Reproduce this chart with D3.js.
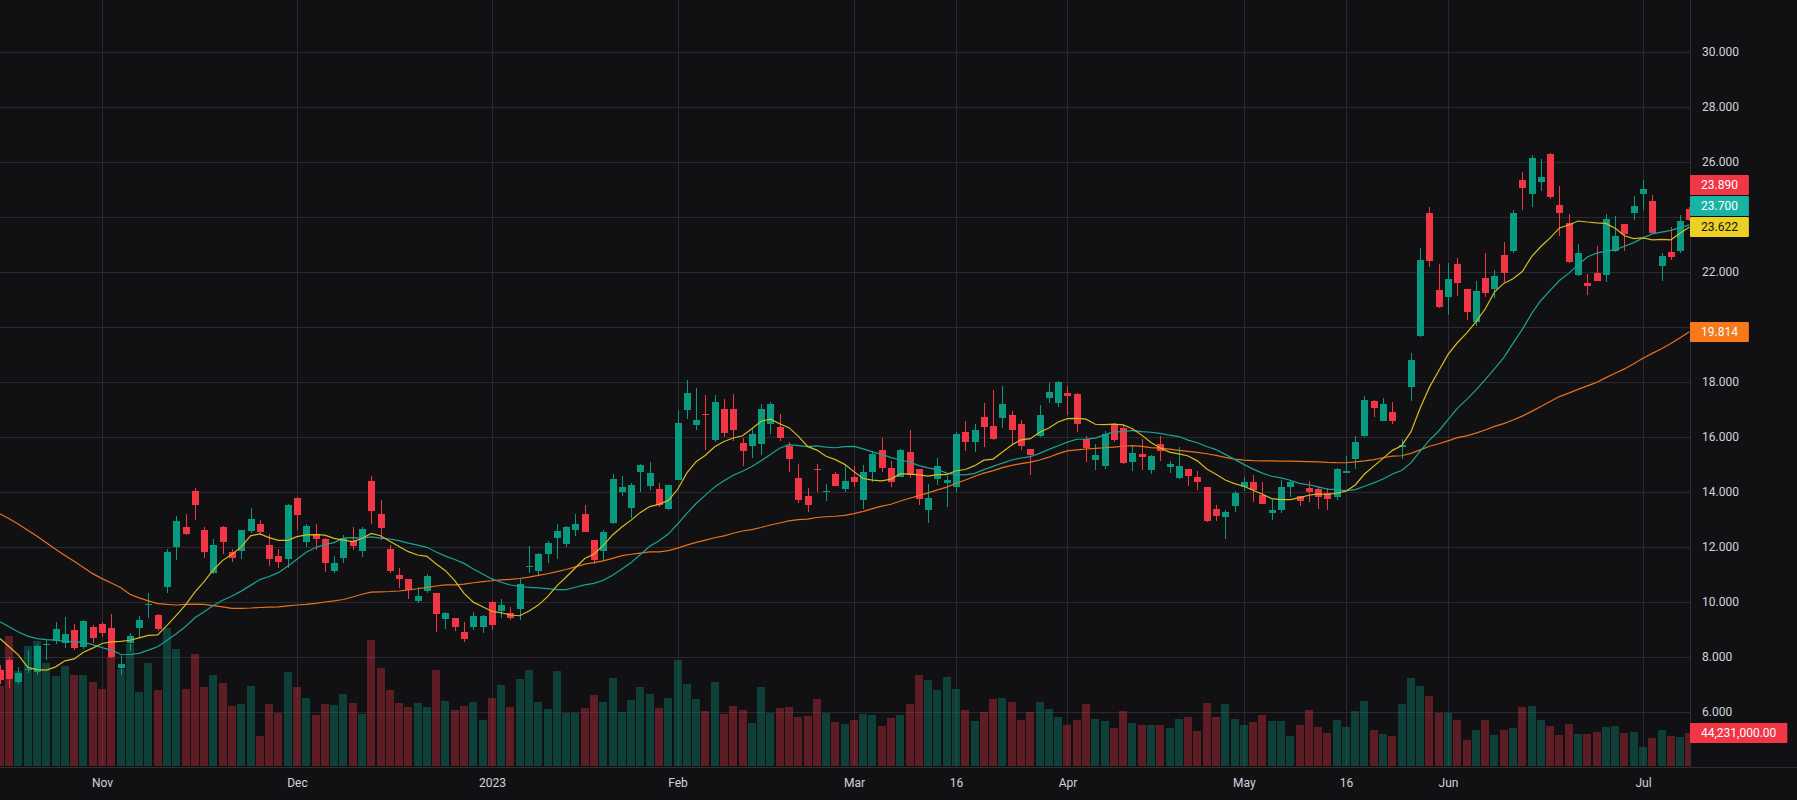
<!DOCTYPE html>
<html>
<head>
<meta charset="utf-8">
<script src="https://cdnjs.cloudflare.com/ajax/libs/d3/7.8.5/d3.min.js"></script>
<style>
    html, body { margin: 0; padding: 0; background: #111114; }
    #chart { width: 1797px; height: 800px; }
    text { font-family: Roboto, "Noto Sans", sans-serif; }
</style>
</head>
<body>
<div id="chart"></div>
<script>
// trading days shown (Oct 17 2022 .. Jul 11 2023)
const dates = [
    '2022-10-17','2022-10-18','2022-10-19','2022-10-20','2022-10-21','2022-10-24','2022-10-25','2022-10-26','2022-10-27','2022-10-28','2022-10-31',
    '2022-11-01','2022-11-02','2022-11-03','2022-11-04','2022-11-07','2022-11-08','2022-11-09','2022-11-10','2022-11-11','2022-11-14','2022-11-15',
    '2022-11-16','2022-11-17','2022-11-18','2022-11-21','2022-11-22','2022-11-23','2022-11-25','2022-11-28','2022-11-29','2022-11-30',
    '2022-12-01','2022-12-02','2022-12-05','2022-12-06','2022-12-07','2022-12-08','2022-12-09','2022-12-12','2022-12-13','2022-12-14','2022-12-15',
    '2022-12-16','2022-12-19','2022-12-20','2022-12-21','2022-12-22','2022-12-23','2022-12-27','2022-12-28','2022-12-29','2022-12-30',
    '2023-01-03','2023-01-04','2023-01-05','2023-01-06','2023-01-09','2023-01-10','2023-01-11','2023-01-12','2023-01-13','2023-01-17',
    '2023-01-18','2023-01-19','2023-01-20','2023-01-23','2023-01-24','2023-01-25','2023-01-26','2023-01-27','2023-01-30','2023-01-31',
    '2023-02-01','2023-02-02','2023-02-03','2023-02-06','2023-02-07','2023-02-08','2023-02-09','2023-02-10','2023-02-13','2023-02-14',
    '2023-02-15','2023-02-16','2023-02-17','2023-02-21','2023-02-22','2023-02-23','2023-02-24','2023-02-27','2023-02-28',
    '2023-03-01','2023-03-02','2023-03-03','2023-03-06','2023-03-07','2023-03-08','2023-03-09','2023-03-10','2023-03-13','2023-03-14',
    '2023-03-15','2023-03-16','2023-03-17','2023-03-20','2023-03-21','2023-03-22','2023-03-23','2023-03-24','2023-03-27','2023-03-28',
    '2023-03-29','2023-03-30','2023-03-31',
    '2023-04-03','2023-04-04','2023-04-05','2023-04-06','2023-04-10','2023-04-11','2023-04-12','2023-04-13','2023-04-14','2023-04-17',
    '2023-04-18','2023-04-19','2023-04-20','2023-04-21','2023-04-24','2023-04-25','2023-04-26','2023-04-27','2023-04-28',
    '2023-05-01','2023-05-02','2023-05-03','2023-05-04','2023-05-05','2023-05-08','2023-05-09','2023-05-10','2023-05-11','2023-05-12',
    '2023-05-15','2023-05-16','2023-05-17','2023-05-18','2023-05-19','2023-05-22','2023-05-23','2023-05-24','2023-05-25','2023-05-26',
    '2023-05-30','2023-05-31',
    '2023-06-01','2023-06-02','2023-06-05','2023-06-06','2023-06-07','2023-06-08','2023-06-09','2023-06-12','2023-06-13','2023-06-14',
    '2023-06-15','2023-06-16','2023-06-20','2023-06-21','2023-06-22','2023-06-23','2023-06-26','2023-06-27','2023-06-28','2023-06-29',
    '2023-06-30',
    '2023-07-03','2023-07-05','2023-07-06','2023-07-07','2023-07-10','2023-07-11'
];

const open = [
    7.5, 7.87, 7.08, 7.52, 7.45, 8.44, 8.56, 8.5, 8.96, 8.36, 9.08,
    9.18, 9.06, 7.6, 8.5, 9.05, 9.88, 9.51, 10.54, 11.99, 12.7,
    14.02, 12.62, 11.05, 12.7, 11.8, 11.85, 12.56, 12.82, 12.08, 11.68,
    11.55, 13.76, 12.18, 12.48, 12.27, 11.12, 11.59, 12.21, 11.85, 14.38,
    13.2, 11.93, 10.96, 10.84, 10.03, 10.38, 10.33, 9.38, 9.39, 8.91,
    9.08, 9.08, 9.98, 9.65, 9.6, 9.74, 11.26, 11.12, 11.73, 12.32,
    12.09, 12.62, 13.18, 12.24, 11.85, 12.88, 13.99, 13.41, 14.72, 14.21,
    14.09, 13.36, 14.43, 16.96, 16.42, 16.82, 15.87, 17.0, 17.0, 15.76,
    15.65, 15.74, 16.45, 16.36, 15.67, 14.49, 13.84, 14.83, 14.0, 14.66,
    14.09, 14.52, 13.7, 14.72, 15.51, 14.88, 14.54, 15.44, 14.82, 13.34,
    14.47, 14.3, 14.18, 16.16, 15.81, 16.7, 16.38, 16.69, 16.78, 16.45,
    15.57, 16.02, 17.41, 17.23, 17.58, 17.55, 15.93, 15.16, 14.93, 16.42,
    16.33, 15.08, 15.36, 14.78, 15.73, 14.9, 14.5, 14.81, 14.53, 14.16,
    13.36, 13.09, 13.48, 14.18, 14.37, 13.87, 13.23, 13.33, 14.18, 13.85,
    14.13, 14.09, 13.94, 13.81, 14.69, 15.18, 16.02, 17.29, 16.58, 16.89,
    15.61, 17.81, 19.65, 24.13, 21.33, 21.08, 22.27, 21.36, 20.17, 21.76,
    21.36, 22.6, 22.76, 25.33, 24.84, 25.27, 26.27, 24.42, 23.78, 21.87,
    21.58, 21.95, 21.87, 22.76, 23.73, 24.13, 24.82, 24.56, 22.2, 22.71,
    22.75, 24.27
];
const high = [
    7.7, 7.99, 7.61, 8.24, 8.48, 8.6, 9.25, 9.45, 9.2, 9.33, 9.15,
    9.27, 9.55, 8.06, 8.87, 9.47, 10.3, 9.57, 11.9, 13.11, 13.2,
    14.12, 12.7, 12.28, 12.75, 11.9, 12.62, 13.42, 12.96, 12.45, 11.9,
    13.57, 13.81, 12.82, 12.84, 12.33, 11.65, 12.42, 12.7, 12.72, 14.56,
    13.71, 12.07, 11.21, 10.84, 10.52, 11.02, 10.33, 9.62, 9.39, 9.25,
    9.64, 9.52, 10.03, 10.09, 9.79, 10.84, 12.02, 11.78, 12.21, 12.82,
    12.75, 13.18, 13.51, 12.26, 12.6, 14.64, 14.56, 14.33, 14.99, 15.07,
    14.33, 14.26, 16.96, 18.05, 17.76, 17.53, 17.52, 17.36, 17.55, 15.97,
    16.3, 17.18, 17.26, 16.84, 15.79, 14.99, 14.13, 15.02, 14.27, 14.7,
    14.97, 14.93, 14.97, 15.47, 15.95, 15.11, 15.57, 16.24, 14.82, 14.27,
    15.24, 14.56, 16.18, 16.56, 16.45, 17.23, 17.69, 17.84, 16.93, 16.6,
    15.57, 17.15, 17.96, 18.03, 17.84, 17.6, 16.02, 15.73, 16.21, 16.5,
    16.42, 15.65, 15.9, 15.33, 16.04, 15.11, 15.61, 14.81, 14.77, 14.16,
    13.53, 13.35, 14.02, 14.52, 14.62, 14.35, 13.75, 14.42, 14.42, 13.85,
    14.38, 14.18, 14.12, 14.85, 15.29, 16.04, 17.47, 17.33, 17.39, 17.26,
    15.93, 19.03, 22.85, 24.35, 22.27, 22.33, 22.49, 21.36, 21.65, 22.67,
    22.05, 23.07, 24.24, 25.62, 26.24, 26.09, 26.31, 25.11, 24.09, 23.0,
    21.91, 22.93, 24.09, 24.04, 23.73, 24.74, 25.33, 24.78, 22.67, 23.62,
    24.05, 24.35
];
const low = [
    7.0, 6.88, 7.0, 7.41, 7.33, 7.87, 8.48, 8.33, 8.26, 8.27, 8.51,
    8.72, 7.97, 7.33, 8.2, 8.69, 9.39, 8.93, 10.3, 11.53, 12.42,
    12.96, 11.59, 11.0, 11.75, 11.45, 11.57, 12.5, 12.48, 11.3, 11.24,
    11.24, 12.6, 12.0, 11.87, 11.08, 11.05, 11.39, 11.87, 11.63, 12.82,
    12.26, 11.05, 10.5, 10.1, 9.96, 10.32, 8.9, 9.01, 8.94, 8.54,
    8.96, 8.86, 8.96, 9.39, 9.33, 9.35, 11.05, 10.93, 11.41, 11.56,
    11.99, 12.38, 12.53, 11.36, 11.48, 12.84, 13.84, 13.06, 13.99, 14.05,
    13.45, 13.33, 14.43, 16.64, 16.26, 15.51, 15.8, 16.0, 15.85, 14.94,
    15.23, 15.33, 16.09, 15.83, 14.72, 13.59, 13.27, 14.0, 13.67, 14.21,
    13.99, 14.17, 13.38, 14.36, 14.72, 14.18, 14.54, 14.5, 13.51, 12.87,
    14.26, 13.45, 14.0, 15.48, 15.45, 15.63, 15.87, 16.32, 15.75, 15.53,
    14.6, 16.0, 17.23, 17.08, 16.78, 16.18, 15.08, 14.78, 14.83, 15.81,
    14.99, 14.74, 14.78, 14.64, 15.12, 14.68, 14.47, 14.21, 14.05, 12.9,
    12.94, 12.27, 13.27, 14.03, 13.62, 13.54, 12.97, 13.21, 13.81, 13.48,
    13.62, 13.36, 13.33, 13.71, 14.69, 14.82, 16.0, 16.7, 16.58, 16.47,
    15.18, 17.3, 19.63, 22.18, 20.69, 20.42, 21.11, 20.24, 20.02, 21.08,
    21.05, 21.63, 22.69, 24.24, 24.36, 24.93, 24.65, 23.29, 22.33, 21.84,
    21.15, 21.65, 21.62, 22.71, 22.76, 23.87, 24.24, 23.41, 21.65, 22.42,
    22.67, 23.85
];
const close = [
    7.15, 7.19, 7.39, 7.55, 8.38, 8.48, 9.02, 8.82, 8.32, 9.29, 8.69,
    8.87, 8.0, 7.72, 8.77, 9.35, 9.93, 9.0, 11.79, 12.93, 12.45,
    13.51, 11.81, 12.08, 12.18, 11.6, 12.59, 12.99, 12.54, 11.56, 11.45,
    13.51, 13.16, 12.74, 12.27, 11.41, 11.42, 12.33, 12.03, 12.66, 13.29,
    12.68, 11.12, 10.83, 10.42, 10.2, 10.93, 9.56, 9.58, 9.08, 8.65,
    9.47, 9.47, 9.16, 9.87, 9.39, 10.66, 11.3, 11.72, 12.15, 12.56,
    12.7, 12.82, 12.53, 11.51, 12.53, 14.45, 14.17, 14.24, 14.96, 14.67,
    13.53, 14.24, 16.49, 17.58, 16.6, 16.78, 17.25, 16.14, 16.24, 15.47,
    16.09, 17.0, 17.2, 15.94, 15.18, 13.7, 13.52, 14.78, 14.03, 14.21,
    14.38, 14.36, 14.7, 15.36, 14.87, 14.36, 15.51, 14.6, 13.74, 13.76,
    14.92, 14.42, 16.09, 15.81, 16.26, 16.36, 15.91, 17.18, 16.25, 15.67,
    15.33, 16.78, 17.62, 17.98, 17.48, 16.48, 15.59, 15.35, 16.11, 15.87,
    15.05, 15.39, 15.27, 15.29, 15.48, 15.0, 14.93, 14.58, 14.35, 12.93,
    13.12, 13.28, 13.96, 14.35, 14.05, 13.54, 13.34, 14.18, 14.36, 13.65,
    14.0, 13.79, 13.72, 14.83, 14.76, 15.82, 17.33, 17.03, 17.19, 16.56,
    15.71, 18.79, 22.43, 22.4, 20.73, 21.74, 21.58, 20.54, 21.31, 21.21,
    21.85, 21.95, 24.12, 25.05, 26.12, 25.43, 24.72, 24.15, 22.37, 22.68,
    21.48, 21.66, 23.92, 23.29, 23.36, 24.38, 25.02, 23.41, 22.56, 22.53,
    23.86, 23.89
];
// volume in millions
const volume = [
    107, 174, 127, 161, 168, 139, 121, 135, 122, 122, 113,
    103, 147, 130, 164, 100, 139, 102, 185, 157, 103,
    150, 106, 122, 111, 80, 83, 107, 40, 83, 71,
    126, 106, 92, 68, 83, 82, 97, 84, 70, 169,
    131, 102, 84, 79, 84, 79, 129, 87, 75, 80,
    86, 62, 92, 109, 79, 117, 129, 86, 76, 127,
    71, 71, 78, 95, 86, 118, 72, 88, 106, 97,
    78, 92, 142, 110, 90, 74, 113, 70, 80, 75,
    58, 106, 71, 78, 79, 66, 67, 90, 71, 59,
    56, 62, 70, 68, 54, 64, 68, 83, 122, 115,
    102, 119, 103, 75, 60, 72, 90, 92, 86, 62,
    72, 86, 76, 66, 55, 62, 83, 63, 60, 51,
    74, 58, 55, 55, 55, 51, 63, 66, 47, 84,
    66, 83, 63, 55, 59, 68, 60, 60, 40, 55,
    75, 52, 44, 62, 52, 74, 87, 48, 43, 40,
    83, 118, 107, 94, 71, 71, 62, 35, 48, 62,
    42, 48, 51, 79, 80, 62, 54, 42, 56, 43,
    43, 46, 52, 54, 44, 46, 25, 38, 48, 40,
    39, 44.231
];

const ma10Early = [8.66, 8.36, 8.06, 7.61, 7.53, 7.51, 7.63, 7.85, 7.92];
const ma20Early = [9.27, 9.09, 8.9, 8.75, 8.66, 8.62, 8.6, 8.56, 8.54, 8.52, 8.44, 8.33, 8.24, 8.09, 8.08, 8.12, 8.24, 8.36, 8.6];
const ma50Early = [
    13.2, 13.02, 12.82, 12.6, 12.38, 12.14, 11.91, 11.68, 11.47, 11.24, 11.02,
    10.84, 10.68, 10.52, 10.27, 10.14, 10.03, 9.93, 9.9, 9.88, 9.9,
    9.91, 9.9, 9.86, 9.81, 9.76, 9.76, 9.77, 9.79, 9.8, 9.81,
    9.85, 9.88, 9.9, 9.94, 9.99, 10.03, 10.08, 10.17, 10.27, 10.35,
    10.36, 10.37, 10.39, 10.43, 10.47, 10.52, 10.57, 10.61
];

const priceTicks = [6, 8, 10, 12, 14, 16, 18, 20, 22, 24, 26, 28, 30];
const tickDates = ['2022-11-01', '2022-12-01', '2023-01-03', '2023-02-01', '2023-03-01', '2023-03-16',
    '2023-04-03', '2023-05-01', '2023-05-16', '2023-06-01', '2023-07-03'];
const tickLabels = ['Nov', 'Dec', '2023', 'Feb', 'Mar', '16', 'Apr', 'May', '16', 'Jun', 'Jul'];

const upColor = '#089981';
const downColor = '#f23645';
const upVol = 'rgba(8,153,129,0.34)';
const downVol = 'rgba(242,54,69,0.34)';
const gridColor = '#2a2a2e';
const textColor = '#d1d4dc';

function sma(period, early) {
    return close.map((c, k) => k < period - 1 ? early[k] : d3.mean(close.slice(k - period + 1, k + 1)));
}

function drawChart() {
    const W = 1797, H = 800;
    const plotW = 1690, plotH = 766;

    const svg = d3.select('#chart').append('svg')
        .attr('width', W)
        .attr('height', H);

    svg.append('rect').attr('width', W).attr('height', H).attr('fill', '#111114');

    svg.append('clipPath').attr('id', 'plot-clip')
        .append('rect').attr('width', plotW).attr('height', plotH);

    const x = d3.scaleLinear()
        .domain([0, dates.length - 1])
        .range([-0.1, 1689.4]);

    const y = d3.scaleLinear()
        .domain([6, 30])
        .range([711.7, 51.7]);

    const yVol = d3.scaleLinear()
        .domain([0, 180])
        .range([plotH, plotH - 134]);

    const tickIdx = tickDates.map(d => dates.indexOf(d));

    // grid
    const grid = svg.append('g').attr('shape-rendering', 'crispEdges');
    grid.selectAll('.hgrid')
        .data(priceTicks)
        .enter().append('line')
        .attr('x1', 0).attr('x2', plotW)
        .attr('y1', d => Math.round(y(d)) + 0.5)
        .attr('y2', d => Math.round(y(d)) + 0.5)
        .attr('stroke', gridColor);
    grid.selectAll('.vgrid')
        .data(tickIdx)
        .enter().append('line')
        .attr('y1', 0).attr('y2', plotH)
        .attr('x1', d => Math.round(x(d)) + 0.5)
        .attr('x2', d => Math.round(x(d)) + 0.5)
        .attr('stroke', gridColor);

    const plot = svg.append('g').attr('clip-path', 'url(#plot-clip)');

    // volume
    plot.append('g').attr('shape-rendering', 'crispEdges')
        .selectAll('rect')
        .data(volume)
        .enter().append('rect')
        .attr('x', (d, k) => Math.round(x(k) - 4))
        .attr('width', 8)
        .attr('y', d => yVol(d))
        .attr('height', d => plotH - yVol(d))
        .attr('fill', (d, k) => close[k] >= open[k] ? upVol : downVol);

    // candles
    const candles = plot.append('g').attr('shape-rendering', 'crispEdges')
        .selectAll('g')
        .data(close)
        .enter().append('g');

    candles.append('rect')
        .attr('x', (d, k) => Math.round(x(k)))
        .attr('width', 1)
        .attr('y', (d, k) => y(high[k]))
        .attr('height', (d, k) => y(low[k]) - y(high[k]))
        .attr('fill', (d, k) => close[k] >= open[k] ? upColor : downColor);

    candles.append('rect')
        .attr('x', (d, k) => Math.round(x(k)) - 3)
        .attr('width', 7)
        .attr('y', (d, k) => y(Math.max(open[k], close[k])))
        .attr('height', (d, k) => Math.max(1, Math.abs(y(open[k]) - y(close[k]))))
        .attr('fill', (d, k) => close[k] >= open[k] ? upColor : downColor);

    // moving averages
    const ma10 = sma(10, ma10Early);
    const ma20 = sma(20, ma20Early);
    const ma50 = sma(50, ma50Early);

    const line = d3.line()
        .x((d, k) => x(k))
        .y(d => y(d));

    const maSeries = [
        {values: ma50, color: '#e8701c', label: '#f7791c', text: '#ffffff'},
        {values: ma20, color: '#1aa396', label: '#19b3a3', text: '#ffffff'},
        {values: ma10, color: '#d6bb22', label: '#ead124', text: '#131313'}
    ];

    maSeries.forEach(s => {
        plot.append('path')
            .datum(s.values)
            .attr('fill', 'none')
            .attr('stroke', s.color)
            .attr('stroke-width', 1.2)
            .attr('d', line);
    });

    // borders
    svg.append('line')
        .attr('x1', plotW + 0.5).attr('x2', plotW + 0.5)
        .attr('y1', 0).attr('y2', plotH + 1)
        .attr('stroke', '#2e2e33');
    svg.append('line')
        .attr('x1', 0).attr('x2', W)
        .attr('y1', plotH + 1.5).attr('y2', plotH + 1.5)
        .attr('stroke', '#2e2e33');

    // last value labels on the price scale
    const last = close.length - 1;
    const labels = [
        {v: close[last], bg: close[last] >= open[last] ? upColor : downColor, fg: '#ffffff'},
        ...maSeries.map(s => ({v: s.values[last], bg: s.label, fg: s.text}))
    ];
    labels.forEach(l => { l.y = y(l.v); });
    labels.sort((a, b) => b.y - a.y);
    const boxH = 20, gap = 21;
    for (let j = 1; j < labels.length; j++) {
        if (labels[j].y > labels[j - 1].y - gap) labels[j].y = labels[j - 1].y - gap;
    }
    labels.push({
        v: volume[last] * 1e6, y: yVol(volume[last]),
        bg: close[last] >= open[last] ? upColor : downColor, fg: '#ffffff', vol: true
    });

    // price axis: tick labels hidden behind a value label are left out
    const freeTicks = priceTicks.filter(t => labels.every(l => Math.abs(y(t) - l.y) > boxH - 2));
    svg.append('g')
        .attr('transform', `translate(${plotW},0)`)
        .call(d3.axisRight(y).tickValues(freeTicks).tickSize(0).tickPadding(12).tickFormat(d3.format('.3f')))
        .call(g => g.select('.domain').remove())
        .call(g => g.selectAll('text').attr('fill', textColor).style('font-size', '12px'));

    // time axis
    svg.append('g')
        .attr('transform', `translate(0,${plotH + 1})`)
        .call(d3.axisBottom(x).tickValues(tickIdx).tickSize(0).tickPadding(11).tickFormat((d, j) => tickLabels[j]))
        .call(g => g.select('.domain').remove())
        .call(g => g.selectAll('text').attr('fill', textColor).style('font-size', '12px'));

    labels.forEach(l => {
        const g = svg.append('g');
        const t = g.append('text')
            .attr('x', plotW + 11)
            .attr('y', l.y)
            .attr('dy', '0.35em')
            .attr('fill', l.fg)
            .style('font-size', '12px')
            .text(l.vol ? d3.format(',.2f')(l.v) : l.v.toFixed(3));
        const w = t.node().getComputedTextLength() + 22;
        g.insert('rect', 'text')
            .attr('x', plotW)
            .attr('y', Math.round(l.y - boxH / 2))
            .attr('width', w)
            .attr('height', boxH)
            .attr('rx', 1)
            .attr('fill', l.bg);
    });
}

drawChart();
</script>
</body>
</html>
